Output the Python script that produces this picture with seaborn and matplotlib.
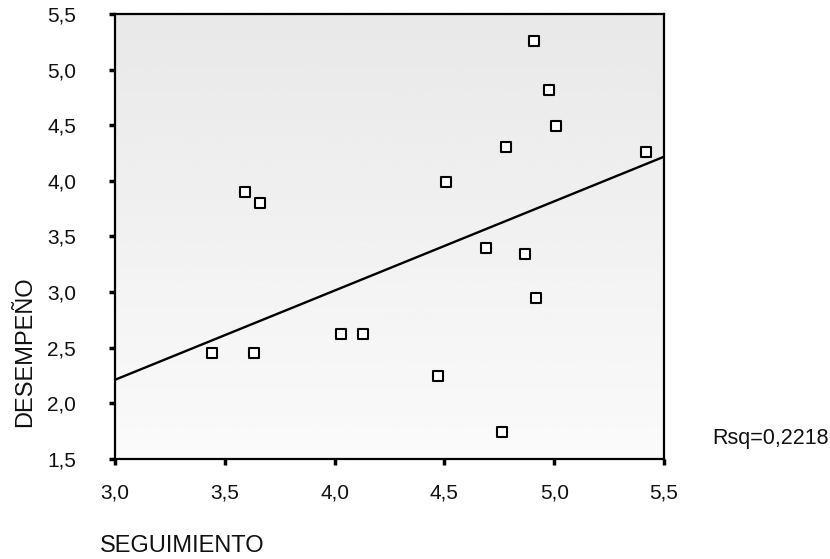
import numpy as np
import pandas as pd
import matplotlib
matplotlib.use("Agg")
import matplotlib.pyplot as plt
import seaborn as sns

# Observed scores
seguimiento = [3.44, 3.635, 3.59, 3.66, 4.03, 4.13, 4.47, 4.505, 4.69,
               4.76, 4.78, 4.865, 4.91, 4.915, 4.975, 5.01, 5.42]
desempeno = [2.45, 2.45, 3.90, 3.80, 2.62, 2.62, 2.25, 3.99, 3.40,
             1.74, 4.30, 3.34, 5.26, 2.95, 4.82, 4.49, 4.26]

# Linear fit reported for the full sample
fit_intercept = -0.194
fit_slope = 0.802
rsq_label = "Rsq=0,2218"

x_ticks = [3.0, 3.5, 4.0, 4.5, 5.0, 5.5]
y_ticks = [1.5, 2.0, 2.5, 3.0, 3.5, 4.0, 4.5, 5.0, 5.5]

sns.set_theme(style="white")
plt.rcParams["font.family"] = ["Liberation Sans", "DejaVu Sans"]

df = pd.DataFrame({"SEGUIMIENTO": seguimiento, "DESEMPEÑO": desempeno})

fig = plt.figure(figsize=(8.30, 5.59), dpi=100)
ax = fig.add_axes([0.1386, 0.1789, 0.6614, 0.7961])

# faint tone over the plotting area, heavier towards the top
shade = np.linspace(0.97, 0.84, 200).reshape(-1, 1)
ax.imshow(shade, cmap="gray", vmin=0, vmax=1, aspect="auto",
          extent=[3.0, 5.5, 1.5, 5.5], origin="lower", zorder=0,
          interpolation="bilinear", alpha=0.55)

# regression line across the x range
line_x = np.array([x_ticks[0], x_ticks[-1]])
line_df = pd.DataFrame({"x": line_x, "y": fit_intercept + fit_slope * line_x})
sns.lineplot(data=line_df, x="x", y="y", ax=ax, color="black", linewidth=1.7,
             zorder=2)

sns.scatterplot(data=df, x="SEGUIMIENTO", y="DESEMPEÑO", ax=ax, marker="s",
                s=42, facecolor="white", edgecolor="black", linewidth=1.5,
                zorder=3)

ax.set_xlim(3.0, 5.5)
ax.set_ylim(1.5, 5.5)
ax.set_xticks(x_ticks)
ax.set_yticks(y_ticks)
ax.set_xticklabels([f"{v:.1f}".replace(".", ",") for v in x_ticks], fontsize=15)
ax.set_yticklabels([f"{v:.1f}".replace(".", ",") for v in y_ticks], fontsize=15)
ax.tick_params(axis="both", direction="out", length=4, width=2.5,
               color="black", labelcolor="#111111", bottom=True, left=True)
ax.tick_params(axis="x", pad=14)
ax.tick_params(axis="y", pad=24)
for sp in ax.spines.values():
    sp.set_visible(True)
    sp.set_color("black")
    sp.set_linewidth(1.6)

ax.set_xlabel("")
ax.set_ylabel("")
fig.text(0.1205, 0.004, "SEGUIMIENTO", fontsize=17, color="#111111",
         ha="left", va="bottom")
fig.text(0.030, 0.37, "DESEMPEÑO", fontsize=17, color="#111111",
         rotation=90, ha="center", va="center")
fig.text(0.858, 0.216, rsq_label, fontsize=15.5, color="#111111",
         ha="left", va="center")

fig.savefig("out.png", dpi=100)
